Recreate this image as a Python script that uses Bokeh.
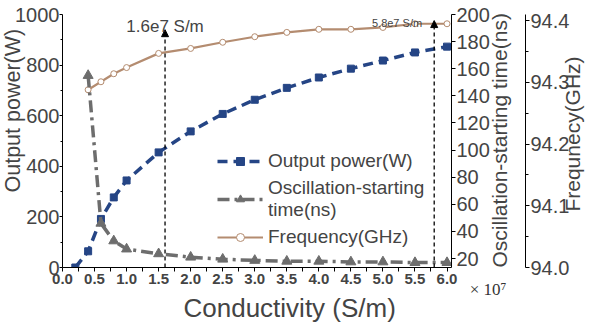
import math
from bokeh.plotting import figure
from bokeh.models import (Range1d, LinearAxis, FixedTicker, Legend, LegendItem,
                          Arrow, NormalHead, Label, Title, PrintfTickFormatter)
from bokeh.embed import file_html
from bokeh.resources import INLINE

# ---- data (conductivity in 1e7 S/m) ----
power_x = [0.2, 0.4, 0.6, 0.8, 1.0, 1.5, 2.0, 2.5, 3.0, 3.5, 4.0, 4.5, 5.0, 5.5, 6.0]
power_w = [0, 64, 192, 277, 344, 455, 538, 607, 663, 710, 751, 786, 818, 850, 873]
cond_x = [0.4, 0.6, 0.8, 1.0, 1.5, 2.0, 2.5, 3.0, 3.5, 4.0, 4.5, 5.0, 5.5, 6.0]
osc_ns = [155, 46, 33, 27, 23.5, 21, 19.5, 18.6, 18, 18, 17.5, 17.5, 17, 17]
freq_ghz = [94.288, 94.301, 94.314, 94.324, 94.347, 94.355, 94.365, 94.374,
            94.381, 94.386, 94.386, 94.389, 94.395, 94.395]
ref_x = [1.6, 5.8]
ref_top = [940, 976]
ref_text = ["1.6e7 S/m", "5.8e7 S/m"]
x_ticks = [0.0, 0.5, 1.0, 1.5, 2.0, 2.5, 3.0, 3.5, 4.0, 4.5, 5.0, 5.5, 6.0]
x_minor = [0.25, 0.75, 1.25, 1.75, 2.25, 2.75, 3.25, 3.75, 4.25, 4.75, 5.25, 5.75]
p_ticks = [0, 200, 400, 600, 800, 1000]
p_minor = [100, 300, 500, 700, 900]
osc_ticks = [20, 40, 60, 80, 100, 120, 140, 160, 180, 200]
f_ticks = [94.0, 94.1, 94.2, 94.3, 94.4]
f_minor = [94.05, 94.15, 94.25, 94.35]

FONT = "Liberation Sans"
BLUE = "#254585"
GRAY = "#6d6d6d"
BROWN = "#b48c70"

p = figure(width=598, height=326, output_backend="svg", toolbar_location=None,
           x_range=Range1d(0, 6.07), y_range=Range1d(0, 1000),
           min_border_left=62, min_border_right=146, min_border_top=14,
           min_border_bottom=59)
p.outline_line_color = None
p.grid.visible = False
p.background_fill_color = "white"

p.extra_y_ranges = {"osc": Range1d(13.4, 200), "freq": Range1d(94.0, 94.41)}

# x axis
xa = p.xaxis[0]
xa.ticker = FixedTicker(ticks=x_ticks, minor_ticks=x_minor)
xa.formatter = PrintfTickFormatter(format="%.1f")
xa.major_label_text_font = FONT
xa.major_label_text_font_style = "bold"
xa.major_label_text_font_size = "15px"
xa.major_label_standoff = 2
xa.major_tick_out = 4
xa.major_tick_in = 0
xa.minor_tick_out = 4
xa.minor_tick_in = 0

# left axis
ya = p.yaxis[0]
ya.ticker = FixedTicker(ticks=p_ticks, minor_ticks=p_minor)
ya.major_label_text_font = FONT
ya.major_label_text_font_size = "20px"
ya.major_label_standoff = 0
ya.major_tick_out = 3
ya.major_tick_in = 0
ya.minor_tick_out = 2
ya.minor_tick_in = 0

t_y = Title(text="Output power(W)", align="left", offset=75, vertical_align="middle",
            text_font=FONT, text_font_size="21.5px", text_font_style="normal")
try:
    t_y.standoff = -31
except Exception:
    t_y.standoff = 0
p.add_layout(t_y, "left")

def right_axis(range_name, ticks, minor, fmt):
    ax = LinearAxis(y_range_name=range_name, ticker=FixedTicker(ticks=ticks, minor_ticks=minor))
    if fmt:
        ax.formatter = PrintfTickFormatter(format=fmt)
    ax.major_label_text_font = FONT
    ax.major_label_text_font_size = "20px"
    ax.major_label_standoff = 1
    ax.major_tick_out = 4
    ax.major_tick_in = 0
    ax.minor_tick_out = 3
    ax.minor_tick_in = 0
    return ax

def title_axis(text, at, size, standoff):
    ax = LinearAxis(ticker=FixedTicker(ticks=[at], minor_ticks=[]),
                    major_label_overrides={at: text})
    ax.axis_line_color = None
    ax.major_tick_line_color = None
    ax.minor_tick_line_color = None
    ax.major_tick_out = 0
    ax.major_tick_in = 0
    ax.major_label_orientation = math.pi / 2
    ax.major_label_standoff = standoff
    ax.major_label_text_font = FONT
    ax.major_label_text_font_size = size
    return ax

p.add_layout(right_axis("osc", osc_ticks, [], None), "right")
p.add_layout(title_axis("Oscillation-starting time(ns)", 0, "21px", 7), "right")
p.add_layout(right_axis("freq", f_ticks, f_minor, "%.1f"), "right")
p.add_layout(title_axis("Frequnecy(GHz)", 221, "21px", 0), "right")

# series
fl = p.line(cond_x, freq_ghz, y_range_name="freq", line_color=BROWN, line_width=2.2)
fs = p.scatter(cond_x, freq_ghz, y_range_name="freq", marker="circle", size=6,
               fill_color="white", line_color=BROWN, line_width=1)

pl = p.line(power_x, power_w, line_color=BLUE, line_width=3.5, line_dash="10 6")
ps = p.scatter(power_x, power_w, marker="square", size=7, fill_color=BLUE,
               line_color=BLUE)

ol = p.line(cond_x, osc_ns, y_range_name="osc", line_color=GRAY, line_width=3.5,
            line_dash="12 5 3 5")
os_ = p.scatter(cond_x, osc_ns, y_range_name="osc", marker="triangle", size=10,
                fill_color=GRAY, line_color=GRAY)

# reference lines with arrows
for xv, top in zip(ref_x, ref_top):
    p.add_layout(Arrow(x_start=xv, y_start=0, x_end=xv, y_end=top,
                       line_color="black", line_width=1.3, line_dash="4 3",
                       end=NormalHead(size=7, fill_color="black", line_color="black")))
p.add_layout(Label(x=ref_x[0], y=953, text=ref_text[0], text_align="center",
                   text_baseline="alphabetic", text_font=FONT, text_font_size="17px"))
p.add_layout(Label(x=5.22, y=966, text=ref_text[1], text_align="center",
                   text_baseline="alphabetic", text_font=FONT, text_font_size="11px"))

# below: multiplier and x title
t_mult = Title(text="× 10⁷", align="right", offset=-55, vertical_align="middle",
               text_font="Liberation Serif", text_font_size="17px",
               text_font_style="normal", text_color="#333333")
try:
    t_mult.standoff = -15
except Exception:
    t_mult.standoff = 0
p.add_layout(t_mult, "below")
t_x = Title(text="Conductivity (S/m)", align="left", offset=121,
            text_font=FONT, text_font_size="26px", text_font_style="normal")
try:
    t_x.standoff = -3
except Exception:
    t_x.standoff = 0
p.add_layout(t_x, "below")

legend = Legend(items=[
    LegendItem(label="Output power(W)", renderers=[pl, ps]),
    LegendItem(label="Oscillation-starting\ntime(ns)", renderers=[ol, os_]),
    LegendItem(label="Frequency(GHz)", renderers=[fl, fs]),
], location=(153, 17))
legend.label_text_font = FONT
legend.label_text_font_size = "19px"
legend.label_text_line_height = 1.25
legend.glyph_width = 46
legend.label_standoff = 5
legend.spacing = 5
legend.padding = 2
legend.border_line_alpha = 0
legend.background_fill_alpha = 0
p.add_layout(legend)

open("out.html", "w").write(file_html(p, INLINE))
